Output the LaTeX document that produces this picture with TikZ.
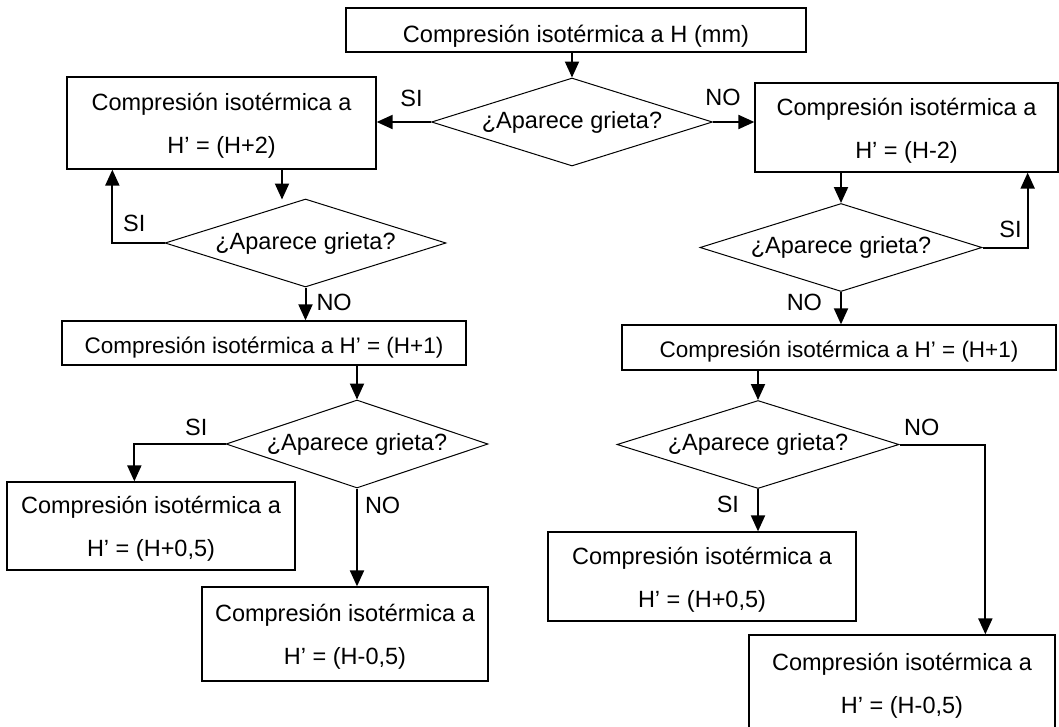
\documentclass[tikz,border=0pt]{standalone}
\usepackage{fontspec}
\setmainfont{Liberation Sans}
\usetikzlibrary{shapes.geometric,arrows.meta,calc}

\begin{document}
\begin{tikzpicture}[x=1pt,y=-1pt,
  caja/.style={draw,line width=1.3pt,inner sep=0pt,align=center,
    font=\fontsize{23.5}{43}\selectfont,text height=61pt,text depth=0pt},
  caja1/.style={caja,text height=20pt,text depth=0pt,
    font=\fontsize{22.5}{27}\selectfont},
  rombo/.style={diamond,draw,line width=1pt,inner sep=0pt,aspect=3.2,
    minimum width=281,minimum height=88,font=\fontsize{23.5}{28}\selectfont},
  flecha/.style={line width=2pt,-{Triangle[length=16pt,width=14pt]}},
  etiq/.style={font=\fontsize{23.5}{28}\selectfont,inner sep=0pt}]
  \useasboundingbox (0,0) rectangle (1059,726);

  % Start
  \node[caja1,minimum width=460,minimum height=44,text height=24pt,
    font=\fontsize{23.6}{28}\selectfont] (ini) at (576,30)
    {Compresión isotérmica a H (mm)};
  \node[rombo] (d1) at (572,122) {¿Aparece grieta?};

  % Left branch
  \node[caja,minimum width=309,minimum height=92] (b2) at (221.5,123)
    {Compresión isotérmica a\\H’ = (H+2)};
  \node[rombo] (d2) at (305.5,243) {¿Aparece grieta?};
  \node[caja1,minimum width=404,minimum height=44] (b4) at (264,343)
    {Compresión isotérmica a H’ = (H+1)};
  \node[rombo,minimum width=262] (d3) at (357,444) {¿Aparece grieta?};
  \node[caja,minimum width=288,minimum height=88] (b6) at (151,526)
    {Compresión isotérmica a\\H’ = (H+0,5)};
  \node[caja,minimum width=286,minimum height=94] (b7) at (345,634)
    {Compresión isotérmica a\\H’ = (H-0,5)};

  % Right branch
  \node[caja,minimum width=303,minimum height=89] (b3) at (906.5,127.5)
    {Compresión isotérmica a\\H’ = (H-2)};
  \node[rombo,minimum width=282] (d4) at (841,247.5) {¿Aparece grieta?};
  \node[caja1,minimum width=434,minimum height=45] (b5) at (839,347.5)
    {Compresión isotérmica a H’ = (H+1)};
  \node[rombo,minimum width=282] (d5) at (758,444.5) {¿Aparece grieta?};
  \node[caja,minimum width=308,minimum height=89] (b8) at (702,576.5)
    {Compresión isotérmica a\\H’ = (H+0,5)};
  \node[caja,minimum width=306,minimum height=96] (b9) at (902,683)
    {Compresión isotérmica a\\H’ = (H-0,5)};

  % Bend points
  \coordinate (e2) at ($(d2.north)+(-23.5,1)$);
  \coordinate (r2) at ($(b2.south west)+(46,0)$);
  \coordinate (r3) at ($(b3.south east)+(-31,0)$);
  \coordinate (r6) at ($(b6.north west)+(128,0)$);
  \coordinate (r9) at ($(b9.north west)+(237,0)$);

  % Connectors
  \draw[flecha] (d1.north |- ini.south) -- (d1.north);
  \draw[flecha] (d1.west) -- (d1.west -| b2.east)
    node[etiq,pos=0.36,above=14pt] {SI};
  \draw[flecha] (d1.east) -- (d1.east -| b3.west)
    node[etiq,pos=0.24,above=15pt] {NO};

  \draw[flecha] (e2 |- b2.south) -- (e2);
  \draw[flecha] (d2.west) -| (r2)
    node[etiq,pos=0.29,above=10pt] {SI};
  \draw[flecha] (d2.south) -- (d2.south |- b4.north)
    node[etiq,pos=0.44,right=10pt] {NO};
  \draw[flecha] (d3.north |- b4.south) -- (d3.north);
  \draw[flecha] (d3.west) -| (r6)
    node[etiq,pos=0.16,above=7pt] {SI};
  \draw[flecha] (d3.south) -- (d3.south |- b7.north)
    node[etiq,pos=0.17,right=7pt] {NO};

  \draw[flecha] (d4.north |- b3.south) -- (d4.north);
  \draw[flecha] (d4.east) -| (r3)
    node[etiq,pos=0.31,above=9pt] {SI};
  \draw[flecha] (d4.south) -- (d4.south |- b5.north)
    node[etiq,pos=0.32,left=18pt] {NO};
  \draw[flecha] (d5.north |- b5.south) -- (d5.north);
  \draw[flecha] (d5.south) -- (d5.south |- b8.north)
    node[etiq,pos=0.36,left=18pt] {SI};
  \draw[flecha] (d5.east) -| (r9)
    node[etiq,pos=0.13,above=8pt] {NO};
\end{tikzpicture}
\end{document}
